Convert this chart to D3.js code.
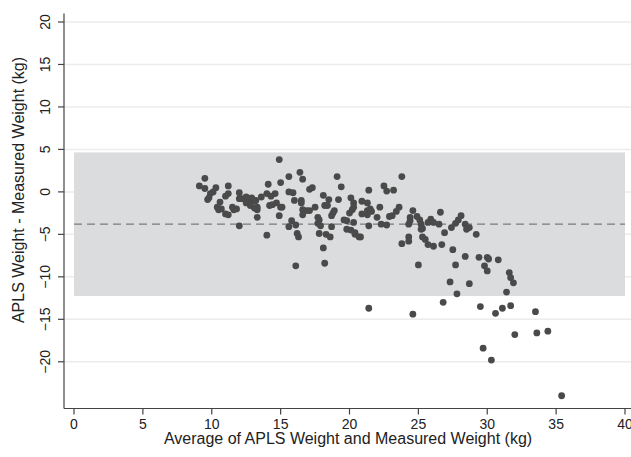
<!DOCTYPE html>
<html>
<head>
<meta charset="utf-8">
<script src="https://cdn.jsdelivr.net/npm/d3@7"></script>
<style>
  body { margin:0; background:#fff; }
  text { font-family: "Liberation Sans", Arial, sans-serif; fill:#222; }
</style>
</head>
<body>
<div id="main"></div>
<script>
// average of the two weights (kg)
var avgWeight = [
  9.1,9.5,9.5,10.3,11.2,9.9,9.8,9.7,10.1,10.6,10.4,10.5,10.7,11.0,11.2,11.0,11.2,11.5,11.6,11.8,
  12.0,12.0,12.0,12.2,12.5,12.6,12.8,13.1,13.3,13.3,12.5,12.8,
  14.9,14.1,15.0,15.6,16.4,16.6,15.6,15.9,16.0,16.5,16.5,17.1,17.3,12.9,13.2,13.1,13.3,13.6,
  14.0,14.3,14.6,14.2,14.4,14.7,15.0,15.1,14.9,14.0,15.8,15.6,16.1,16.2,16.3,16.6,16.9,17.1,16.6,17.5,
  17.7,17.8,17.7,17.9,17.8,18.1,18.5,18.2,18.4,18.8,18.9,18.7,18.3,18.6,18.1,16.1,18.2,19.1,19.4,19.2,
  20.1,20.3,20.3,20.2,20.0,19.6,19.8,19.8,20.1,20.4,20.7,20.9,21.3,21.4,21.3,21.4,
  18.7,20.3,20.4,20.9,21.3,
  23.8,22.5,22.7,23.2,21.5,21.6,22.0,22.2,22.3,22.7,22.9,23.1,23.4,23.6,20.8,23.8,24.3,24.3,24.6,24.4,
  24.4,24.3,24.9,25.1,25.2,25.2,25.3,25.3,25.5,25.7,26.1,25.0,25.7,25.9,26.1,26.5,26.6,26.9,26.7,27.5,
  27.4,27.7,27.9,28.1,28.4,28.5,28.7,27.7,28.4,
  29.2,29.4,30.0,30.1,29.8,30.0,30.8,31.6,31.7,31.9,
  21.4,24.6,26.8,27.3,27.8,28.7,29.5,29.7,30.3,30.6,31.1,31.4,31.7,32.0,33.5,33.6,34.4,35.4
];
// APLS weight minus measured weight (kg)
var diffWeight = [
  0.7,1.6,0.4,0.5,0.7,-0.2,-0.7,-0.9,0.0,-1.2,-1.8,-2.1,-2.0,-0.5,-0.2,-2.6,-2.7,-1.8,-2.1,-2.0,
  -0.1,-0.8,-4.0,-0.8,-0.6,-1.2,-0.9,-1.1,-1.8,-3.0,-1.3,-1.6,
  3.8,0.9,1.1,1.8,2.3,1.5,0.0,-0.1,-1.0,-1.0,-1.3,0.3,0.5,-0.7,-1.0,-1.9,-2.1,-0.6,
  -0.2,-0.5,-0.2,-1.6,-1.5,-1.3,-1.8,-1.8,-2.8,-5.1,-3.4,-4.1,-3.9,-4.9,-5.3,-2.1,-2.2,-2.2,-2.7,-1.8,
  -3.0,-3.3,-3.7,-4.0,-4.9,-0.4,-0.9,-1.6,-1.6,-2.5,-2.2,-4.1,-5.0,-5.3,-6.6,-8.7,-8.4,1.8,0.6,-0.9,
  -0.7,-1.3,-1.8,-2.1,-2.5,-3.3,-3.4,-4.4,-4.5,-4.8,-5.3,-1.1,-1.3,0.2,-2.7,-4.0,
  -2.8,-3.6,-5.0,-2.6,-2.2,
  1.8,0.7,0.1,0.2,-2.0,-2.3,-3.0,-1.8,-3.8,-3.9,-2.9,-2.8,-2.3,-1.8,-5.3,-6.1,-5.3,-5.8,-2.2,-3.4,
  -3.0,-3.8,-2.9,-3.3,-3.8,-4.4,-4.3,-5.3,-5.6,-6.2,-6.4,-8.6,-3.6,-3.2,-3.6,-3.8,-2.4,-4.8,-6.2,-6.8,
  -4.2,-3.7,-3.3,-2.8,-3.8,-4.4,-4.2,-8.6,-7.6,
  -5.0,-7.7,-7.7,-7.9,-8.7,-9.3,-8.0,-9.5,-10.1,-10.7,
  -13.7,-14.4,-13.0,-10.6,-12.0,-10.8,-13.5,-18.4,-19.8,-14.3,-13.7,-11.8,-13.4,-16.8,-14.1,-16.6,-16.4,-24.0
];

var xTicks = [0,5,10,15,20,25,30,35,40];
var yTicks = [-20,-15,-10,-5,0,5,10,15,20];
var meanDiff = -3.8;
var limits = [-12.25, 4.65]; // lower / upper limit of agreement

var width = 631, height = 457;

var svg = d3.select("#main")
            .append("svg")
            .attr("width", width)
            .attr("height", height);

var x = d3.scaleLinear().domain([0, 40]).range([74, 625]);
var y = d3.scaleLinear().domain([-25.5, 21]).range([408.5, 13.5]);
var axisLeft = 64, axisBottom = y(-25.5);

// grid lines
svg.append("g")
   .selectAll("line")
   .data(yTicks)
   .enter().append("line")
   .attr("x1", axisLeft).attr("x2", width)
   .attr("y1", function(d) { return y(d); })
   .attr("y2", function(d) { return y(d); })
   .style("stroke", "#ececec")
   .style("stroke-width", 1.5);

// limits of agreement band
svg.append("rect")
   .attr("x", x(0))
   .attr("y", y(limits[1]))
   .attr("width", x(40) - x(0))
   .attr("height", y(limits[0]) - y(limits[1]))
   .style("fill", "#dbdcde");

// mean difference
svg.append("line")
   .attr("x1", x(0)).attr("x2", x(40))
   .attr("y1", y(meanDiff)).attr("y2", y(meanDiff))
   .style("stroke", "#7a7a7a")
   .style("stroke-width", 1.3)
   .style("stroke-dasharray", "8,5");

// points
svg.append("g")
   .selectAll("circle")
   .data(avgWeight)
   .enter().append("circle")
   .attr("cx", function(d) { return x(d); })
   .attr("cy", function(d, i) { return y(diffWeight[i]); })
   .attr("r", 3.4)
   .style("fill", "#4a4a4a");

// x axis
var xAxis = svg.append("g").attr("transform", "translate(0," + axisBottom + ")");
xAxis.append("line")
     .attr("x1", axisLeft).attr("x2", width)
     .style("stroke", "#444").style("stroke-width", 1.2);
var xt = xAxis.selectAll(".xt")
     .data(xTicks)
     .enter().append("g")
     .attr("class", "xt")
     .attr("transform", function(d) { return "translate(" + x(d) + ",0)"; });
xt.append("line").attr("y2", 6).style("stroke", "#444").style("stroke-width", 1.2);
xt.append("text")
  .attr("y", 20)
  .attr("text-anchor", "middle")
  .style("font-size", "14px")
  .text(function(d) { return d; });

// y axis
var yAxis = svg.append("g").attr("transform", "translate(" + axisLeft + ",0)");
yAxis.append("line")
     .attr("y1", y(21)).attr("y2", axisBottom)
     .style("stroke", "#444").style("stroke-width", 1.2);
var yt = yAxis.selectAll(".yt")
     .data(yTicks)
     .enter().append("g")
     .attr("class", "yt")
     .attr("transform", function(d) { return "translate(0," + y(d) + ")"; });
yt.append("line").attr("x2", -6).style("stroke", "#444").style("stroke-width", 1.2);
yt.append("text")
  .attr("transform", "translate(-14,0) rotate(-90)")
  .attr("text-anchor", "middle")
  .style("font-size", "14px")
  .text(function(d) { return d < 0 ? "\u2212" + (-d) : d; });

// titles
svg.append("text")
   .attr("x", 348).attr("y", 444)
   .attr("text-anchor", "middle")
   .style("font-size", "16px")
   .text("Average of APLS Weight and Measured Weight (kg)");

svg.append("text")
   .attr("transform", "translate(24,190) rotate(-90)")
   .attr("text-anchor", "middle")
   .style("font-size", "16px")
   .text("APLS Weight - Measured Weight (kg)");
</script>
</body>
</html>
